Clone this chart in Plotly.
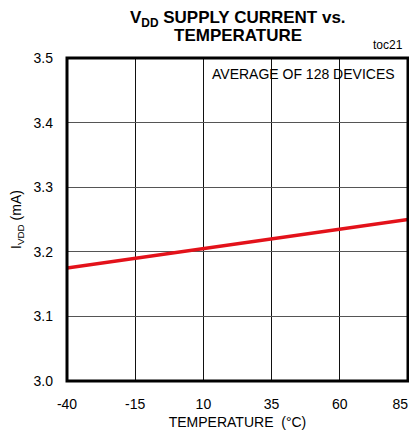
import plotly.graph_objects as go

temps = [-40, -15, 10, 35, 60, 85]
current_ma = [3.175, 3.19, 3.205, 3.22, 3.235, 3.25]
x_ticks = [-40, -15, 10, 35, 60, 85]
x_tick_labels = ["-40", "-15", "10", "35", "60", "85&nbsp;&nbsp;&nbsp;&nbsp;"]
y_ticks = [3.0, 3.1, 3.2, 3.3, 3.4, 3.5]

FONT = "Liberation Sans, Arial, sans-serif"

fig = go.Figure()
fig.add_trace(go.Scatter(x=temps, y=current_ma, mode="lines",
                         line=dict(color="#e3121a", width=3.5), showlegend=False))

# page body has an 8px margin, so the figure is shifted; margins compensate
fig.update_layout(
    width=417, height=422,
    margin=dict(l=59, r=17, t=50, b=49, autoexpand=False),
    paper_bgcolor="white", plot_bgcolor="white",
    font=dict(family=FONT, size=14, color="black"),
    xaxis=dict(range=[-40, 85], tickvals=x_ticks, ticktext=x_tick_labels,
               showgrid=True, gridcolor="#111", gridwidth=1, zeroline=False,
               ticks="", showline=False, automargin=False, ticklabeloverflow="allow",
               title=dict(text="TEMPERATURE  (°C)", standoff=9, font=dict(size=14)),
               ticklabelstandoff=13),
    yaxis=dict(range=[3.0, 3.5], tickvals=y_ticks, ticktext=[f"{v:.1f}" for v in y_ticks],
               showgrid=True, gridcolor="#555", gridwidth=1, zeroline=False,
               ticks="", showline=False, ticklabelstandoff=13, automargin=False,
               ticklabeloverflow="allow",
               title=dict(text="I<sub>VDD</sub> (mA)", standoff=15, font=dict(size=14))),
)

fig.add_shape(type="rect", xref="paper", yref="paper", x0=0.39, x1=1, y0=0.907, y1=1,
              fillcolor="white", line=dict(width=0), layer="between")
fig.add_annotation(x=0.6935, y=0.950, xref="paper", yref="paper", xanchor="center", yanchor="middle",
                   text="AVERAGE OF 128 DEVICES", showarrow=False, font=dict(size=14))
fig.add_annotation(x=0.5, y=1, xref="paper", yref="paper", xanchor="center", yanchor="middle",
                   text="<b>V<sub>DD</sub> SUPPLY CURRENT vs.</b>",
                   showarrow=False, yshift=39, font=dict(size=17))
fig.add_annotation(x=0.5, y=1, xref="paper", yref="paper", xanchor="center", yanchor="middle",
                   text="<b>TEMPERATURE</b>",
                   showarrow=False, yshift=23, font=dict(size=17))
fig.add_annotation(x=1, y=1, xref="paper", yref="paper", xanchor="right", yanchor="middle",
                   text="toc21", showarrow=False, yshift=13, xshift=-3, font=dict(size=12))
fig.add_shape(type="rect", xref="paper", yref="paper", x0=0, x1=1, y0=0, y1=1,
              line=dict(color="black", width=3))

fig.write_html("out.html")
